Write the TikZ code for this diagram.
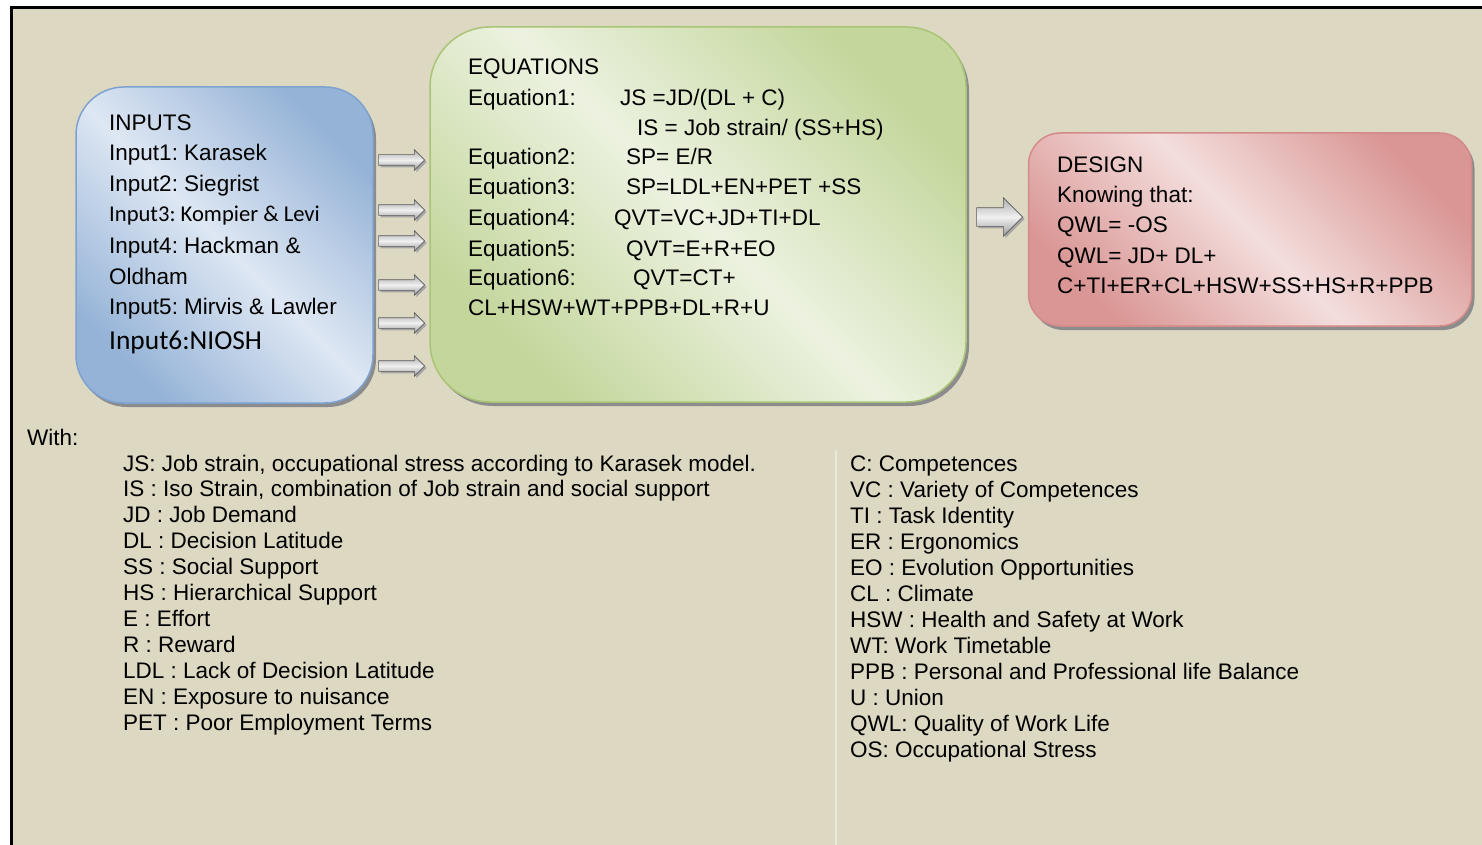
\documentclass[tikz,border=0pt]{standalone}
\usepackage{fontspec}
\setmainfont{Liberation Sans}
\newfontfamily\calib{Carlito}
\frenchspacing
\usetikzlibrary{shapes.arrows,shadows}
\definecolor{paper}{RGB}{221,216,194}
\definecolor{inlight}{RGB}{222,231,243}
\definecolor{indark}{RGB}{149,179,215}
\definecolor{inedge}{RGB}{126,162,208}
\definecolor{eqlight}{RGB}{236,242,224}
\definecolor{eqdark}{RGB}{195,214,155}
\definecolor{eqedge}{RGB}{170,196,118}
\definecolor{dslight}{RGB}{243,222,221}
\definecolor{dsdark}{RGB}{217,150,148}
\definecolor{dsedge}{RGB}{212,138,136}
\definecolor{shade}{RGB}{140,140,140}
\definecolor{divider}{RGB}{234,230,216}

\tikzset{
  panel/.style={draw, line width=1.5pt,
    drop shadow={shadow xshift=3pt, shadow yshift=-4pt, fill=shade, opacity=1}},
  inbox/.style={panel, draw=inedge, rounded corners=48pt,
    top color=indark, bottom color=indark, middle color=inlight, shading angle=-45},
  eqbox/.style={panel, draw=eqedge, rounded corners=60pt,
    top color=eqdark, bottom color=eqdark, middle color=eqlight, shading angle=-45},
  dsbox/.style={panel, draw=dsedge, rounded corners=32pt,
    top color=dsdark, bottom color=dsdark, middle color=dslight, shading angle=-45},
  txt/.style={anchor=base west, inner sep=0pt, font=\fontsize{22.5}{27}\selectfont},
  blockarrow/.style={single arrow, draw=gray!70!black, line width=0.6pt,
    top color=gray!65, bottom color=gray!80, middle color=gray!12,
    inner xsep=0pt, inner ysep=5pt, minimum height=46pt,
    single arrow head extend=5pt,
    drop shadow={shadow xshift=2pt, shadow yshift=-2pt, fill=gray!70, opacity=1}},
  bigarrow/.style={blockarrow, inner ysep=9pt, single arrow head extend=10pt}
}

\begin{document}
\begin{tikzpicture}[x=1pt, y=-1pt]
  \useasboundingbox (0,0) rectangle (1482,845);
  % frame
  \fill[paper] (11,8) rectangle (1482,845);
  \draw[line width=3pt] (11,845) -- (11,8) -- (1482,8);
  \draw[divider, line width=1.5pt] (836,450) -- (836,845);

  % the three boxes
  \node[inbox, minimum width=297pt, minimum height=316pt] (inputs) at (224.5,245) {};
  \node[eqbox, minimum width=536pt, minimum height=375pt] (equations) at (698,214.5) {};
  \node[dsbox, minimum width=443pt, minimum height=193pt] (design) at (1250,229.5) {};

  % arrows
  \foreach \y [count=\i] in {160,210,241,285,323,366}
    \node[blockarrow] (arr\i) at (399,\y) {};
  \node[bigarrow] (arrd) at (995,217) {};

  % inputs
  \foreach \y/\t in {131/INPUTS, 161/Input1: Karasek, 192/Input2: Siegrist,
      253/Input4: Hackman \&, 284/Oldham, 314/Input5: Mirvis \& Lawler}
    \node[txt] (in\y) at (109,\y) {\t};
  \node[txt, font=\calib\fontsize{22.6}{27}\selectfont] (in3) at (109,221) {Input3: Kompier \& Levi};
  \node[txt, font=\calib\fontsize{27.4}{32}\selectfont] (in6) at (109,349) {Input6:NIOSH};

  % equations
  \node[txt] (eqtitle) at (468,75) {EQUATIONS};
  \node[txt] (eq1) at (468,106) {Equation1:};
  \node[txt] (eq1a) at (620,106) {JS =JD/(DL + C)};
  \node[txt] (eq1b) at (637,136) {IS = Job strain/ (SS+HS)};
  \node[txt] (eq2) at (468,165) {Equation2:};
  \node[txt] (eq2a) at (626,165) {SP= E/R};
  \node[txt] (eq3) at (468,195) {Equation3:};
  \node[txt] (eq3a) at (626,195) {SP=LDL+EN+PET +SS};
  \node[txt] (eq4) at (468,225) {Equation4:};
  \node[txt] (eq4a) at (614,225) {QVT=VC+JD+TI+DL};
  \node[txt] (eq5) at (468,256) {Equation5:};
  \node[txt] (eq5a) at (626,256) {QVT=E+R+EO};
  \node[txt] (eq6) at (468,285) {Equation6:};
  \node[txt] (eq6a) at (633,285) {QVT=CT+};
  \node[txt] (eq6b) at (468,315) {CL+HSW+WT+PPB+DL+R+U};

  % design
  \foreach \y/\t in {173/DESIGN, 203/Knowing that:, 233/QWL= -OS,
      263/QWL= JD+ DL+, 293/C+TI+ER+CL+HSW+SS+HS+R+PPB}
    \node[txt] (ds\y) at (1057,\y) {\t};

  % abbreviations
  \node[txt] (with) at (27,445) {With:};
  \foreach \t [count=\i from 0] in {
      {JS: Job strain, occupational stress according to Karasek model.},
      {IS : Iso Strain, combination of Job strain and social support},
      JD : Job Demand, DL : Decision Latitude, SS : Social Support,
      HS : Hierarchical Support, E : Effort, R : Reward,
      LDL : Lack of Decision Latitude, EN : Exposure to nuisance,
      PET : Poor Employment Terms}
    \node[txt] (la\i) at (123,{471+25.9*\i}) {\t};
  \foreach \t [count=\i from 0] in {
      C: Competences, VC : Variety of Competences, TI : Task Identity,
      ER : Ergonomics, EO : Evolution Opportunities, CL : Climate,
      HSW : Health and Safety at Work, WT: Work Timetable,
      PPB : Personal and Professional life Balance, U : Union,
      QWL: Quality of Work Life, OS: Occupational Stress}
    \node[txt] (ra\i) at (850,{471+26*\i}) {\t};
\end{tikzpicture}
\end{document}
